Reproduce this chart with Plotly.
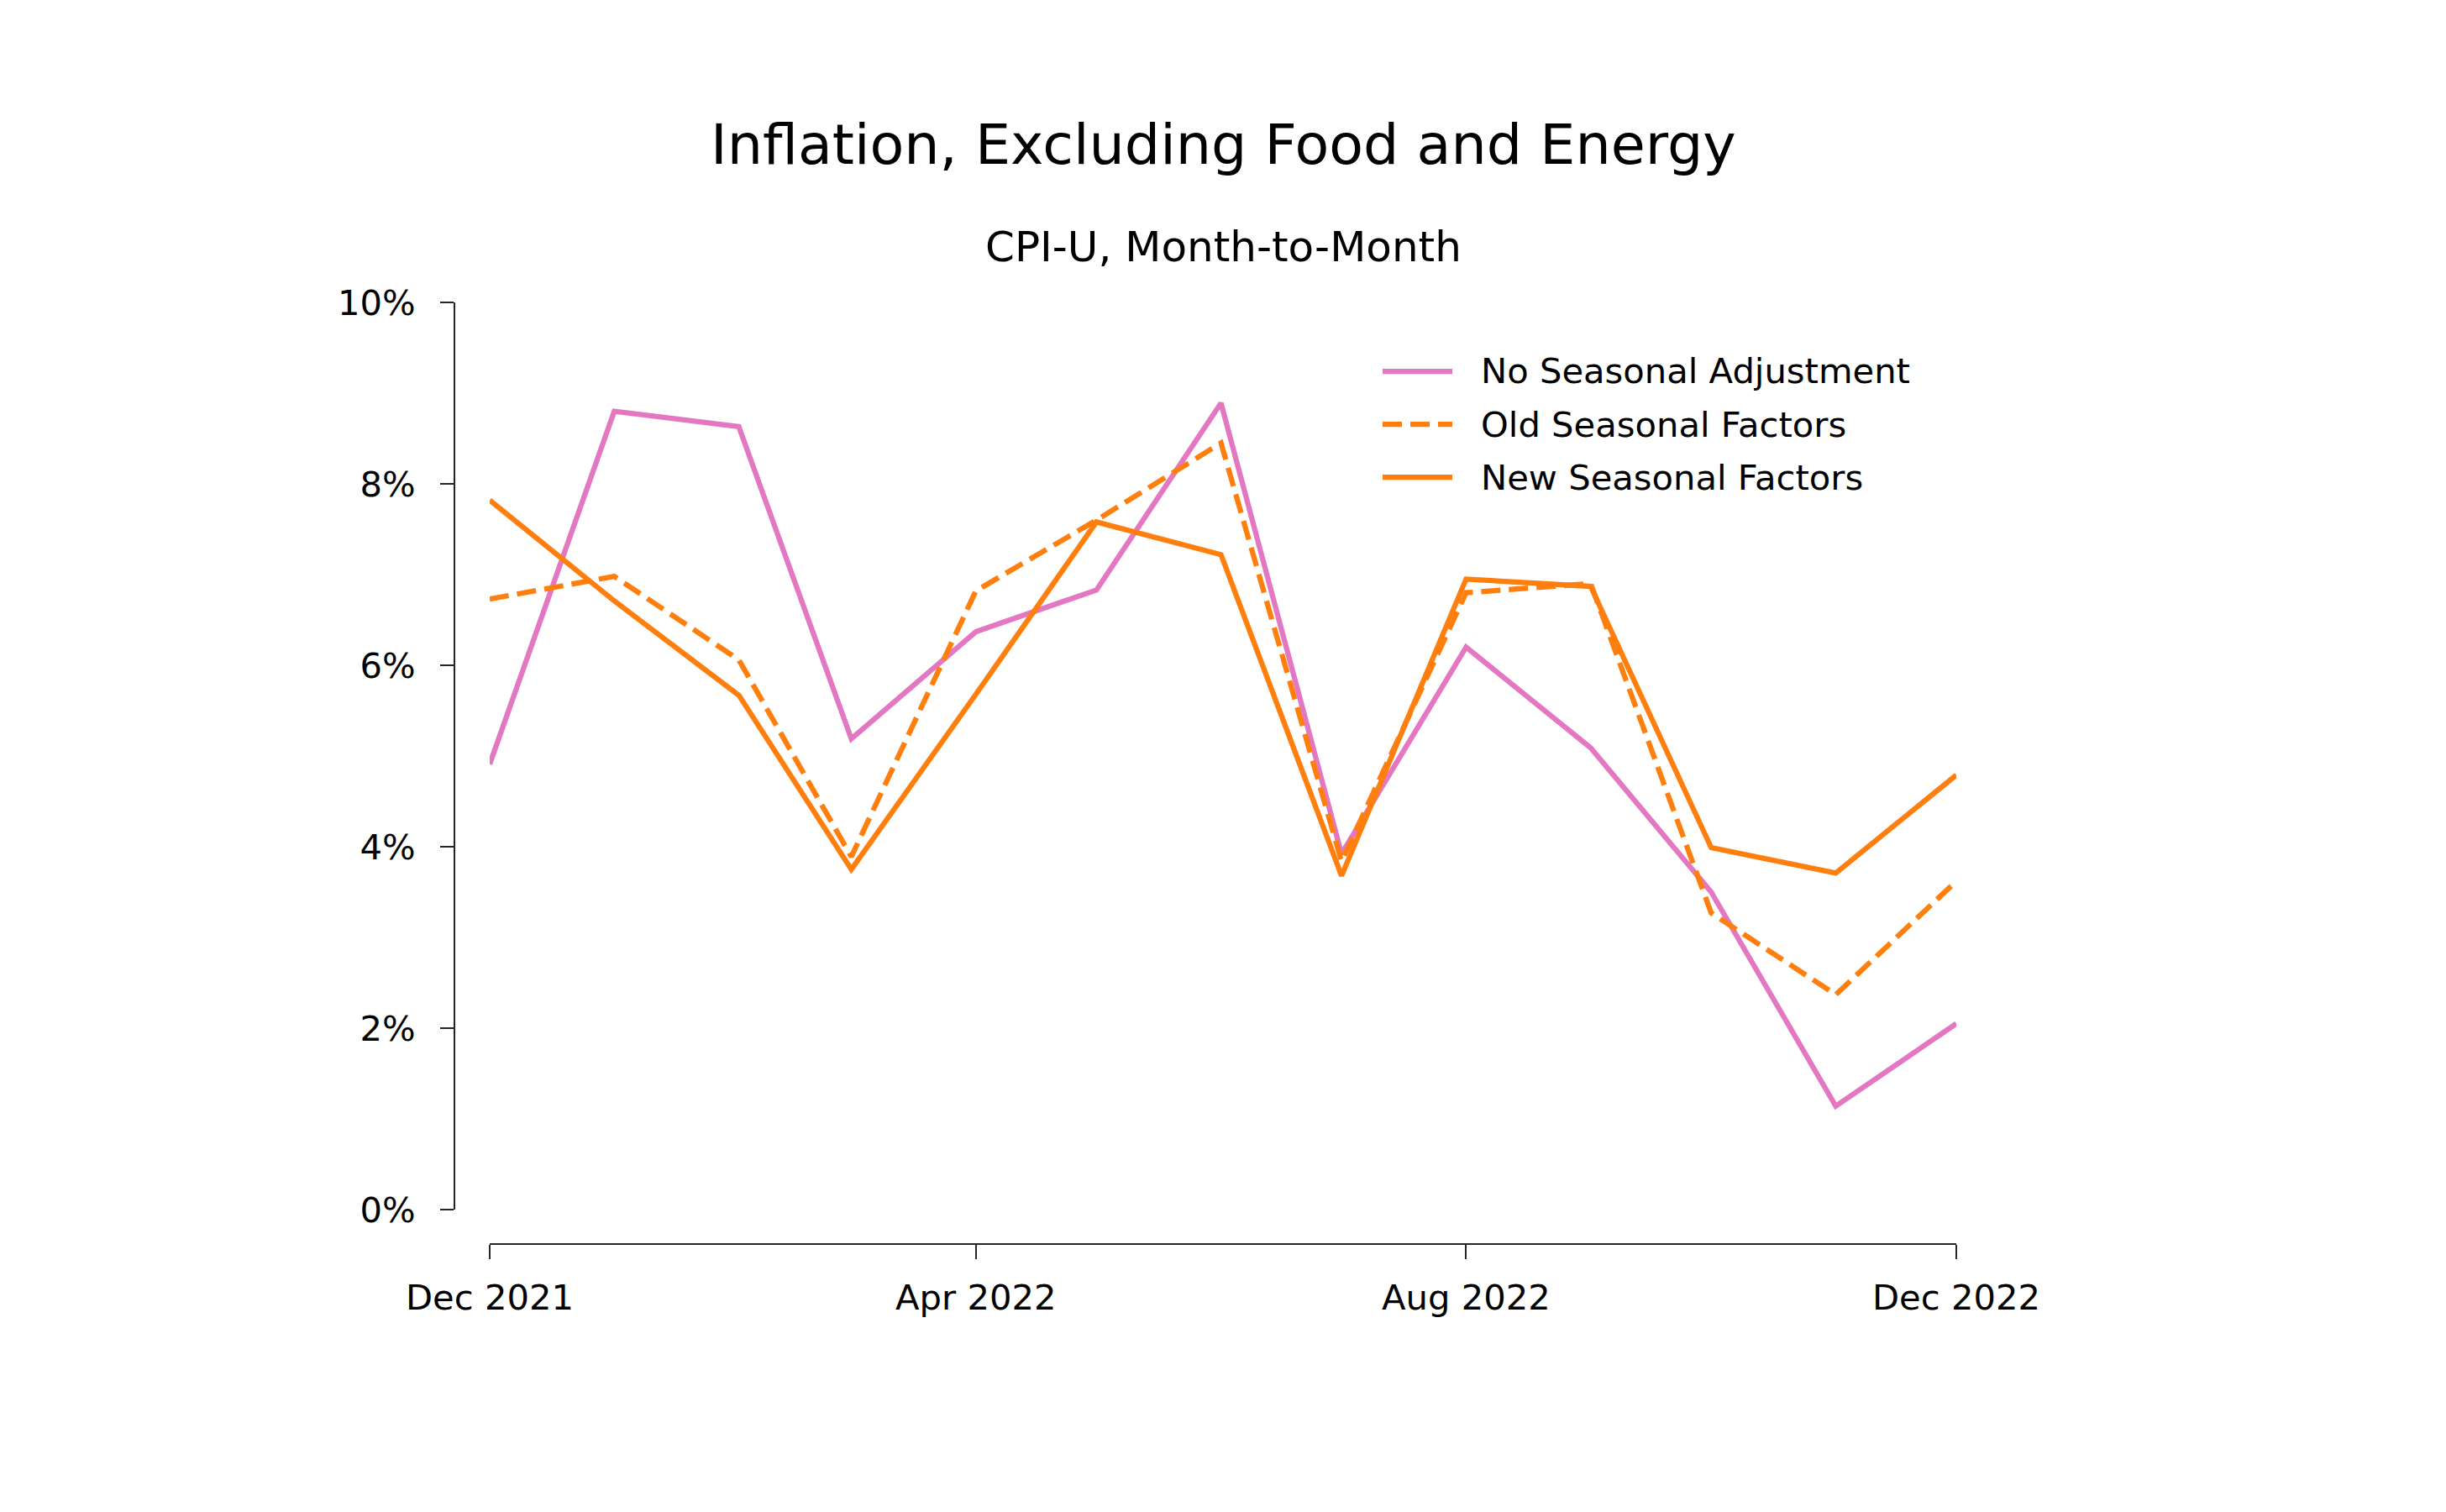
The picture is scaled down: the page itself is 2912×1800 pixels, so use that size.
import plotly.graph_objects as go

# ---- data ----
months = ["2021-12-01", "2022-01-01", "2022-02-01", "2022-03-01", "2022-04-01",
          "2022-05-01", "2022-06-01", "2022-07-01", "2022-08-01", "2022-09-01",
          "2022-10-01", "2022-11-01", "2022-12-01"]
no_seasonal = [4.91, 8.80, 8.63, 5.19, 6.37, 6.83, 8.89, 3.92, 6.20, 5.09, 3.50, 1.14, 2.05]
old_factors = [6.73, 6.98, 6.06, 3.89, 6.82, 7.60, 8.45, 3.84, 6.80, 6.90, 3.27, 2.37, 3.62]
new_factors = [7.82, 6.71, 5.67, 3.75, 5.68, 7.58, 7.22, 3.68, 6.95, 6.87, 3.99, 3.71, 4.79]
series_names = ["No Seasonal Adjustment", "Old Seasonal Factors", "New Seasonal Factors"]

x_tickvals = ["2021-12-01", "2022-04-01", "2022-08-01", "2022-12-01"]
x_ticktext = ["Dec 2021", "Apr 2022", "Aug 2022", "Dec 2022"]
y_tickvals = [0, 2, 4, 6, 8, 10]
y_ticktext = ["0%", "2%", "4%", "6%", "8%", "10%"]

title = "Inflation, Excluding Food and Energy"
subtitle = "CPI-U, Month-to-Month"

# ---- style ----
W, H = 2912, 1800
BODY = 8                      # default page margin around the plot div
FW, FH = W - 2 * BODY, H - 2 * BODY
PINK = "#e377c2"
ORANGE = "#ff7f0e"
AXIS = "#262626"
FONT = "DejaVu Sans"
LW = 6.25
DASH = "23px,10px"
colors = [PINK, ORANGE, ORANGE]
dashes = ["solid", DASH, "solid"]
values = [no_seasonal, old_factors, new_factors]

fig = go.Figure()
for name, vals, col, dsh in zip(series_names, values, colors, dashes):
    fig.add_trace(go.Scatter(x=months, y=vals, mode="lines", name=name,
                             line=dict(color=col, width=LW, dash=dsh),
                             showlegend=False))

def px_x(p):
    return (p - BODY) / FW

def px_y(p):
    return 1 - (p - BODY) / FH

# manual legend (matplotlib-like long handles)
leg_x0, leg_x1, leg_tx = 1646, 1729, 1761
leg_rows = [442, 505, 568]
shapes = []
annotations = []
for name, col, dsh, row in zip(series_names, colors, dashes, leg_rows):
    shapes.append(dict(type="line", xref="paper", yref="paper",
                       x0=px_x(leg_x0), x1=px_x(leg_x1), y0=px_y(row), y1=px_y(row),
                       line=dict(color=col, width=LW, dash=dsh)))
    annotations.append(dict(text=name, xref="paper", yref="paper",
                            x=px_x(leg_tx), y=px_y(row), xanchor="left", yanchor="middle",
                            showarrow=False, font=dict(family=FONT, size=41.7, color="#000000")))

annotations.append(dict(text=title, xref="paper", yref="paper", x=px_x(W / 2), y=px_y(172),
                        xanchor="center", yanchor="middle", showarrow=False,
                        font=dict(family=FONT, size=66.7, color="#000000")))
annotations.append(dict(text=subtitle, xref="paper", yref="paper", x=px_x(W / 2), y=px_y(294),
                        xanchor="center", yanchor="middle", showarrow=False,
                        font=dict(family=FONT, size=50, color="#000000")))

fig.update_layout(
    width=FW, height=FH,
    margin=dict(l=0, r=0, t=0, b=0, autoexpand=False),
    paper_bgcolor="white", plot_bgcolor="white",
    font=dict(family=FONT, size=41.7, color="#000000"),
    shapes=shapes, annotations=annotations,
    xaxis=dict(type="date", domain=[px_x(583), px_x(2329)],
               range=[months[0], months[-1]],
               anchor="free", position=px_y(1481), automargin=False,
               showline=True, linecolor=AXIS, linewidth=2,
               ticks="outside", ticklen=17, tickwidth=2, tickcolor=AXIS,
               tickvals=x_tickvals, ticktext=x_ticktext,
               ticklabelstandoff=10,
               showgrid=False, zeroline=False,
               tickfont=dict(family=FONT, size=41.7, color="#000000")),
    yaxis=dict(domain=[px_y(1440), px_y(360)], range=[0, 10],
               anchor="free", position=px_x(541), automargin=False,
               showline=True, linecolor=AXIS, linewidth=2,
               ticks="outside", ticklen=16, tickwidth=2, tickcolor=AXIS,
               tickvals=y_tickvals, ticktext=y_ticktext,
               ticklabelstandoff=21,
               showgrid=False, zeroline=False,
               tickfont=dict(family=FONT, size=41.7, color="#000000")),
)

fig.write_html("out.html")
